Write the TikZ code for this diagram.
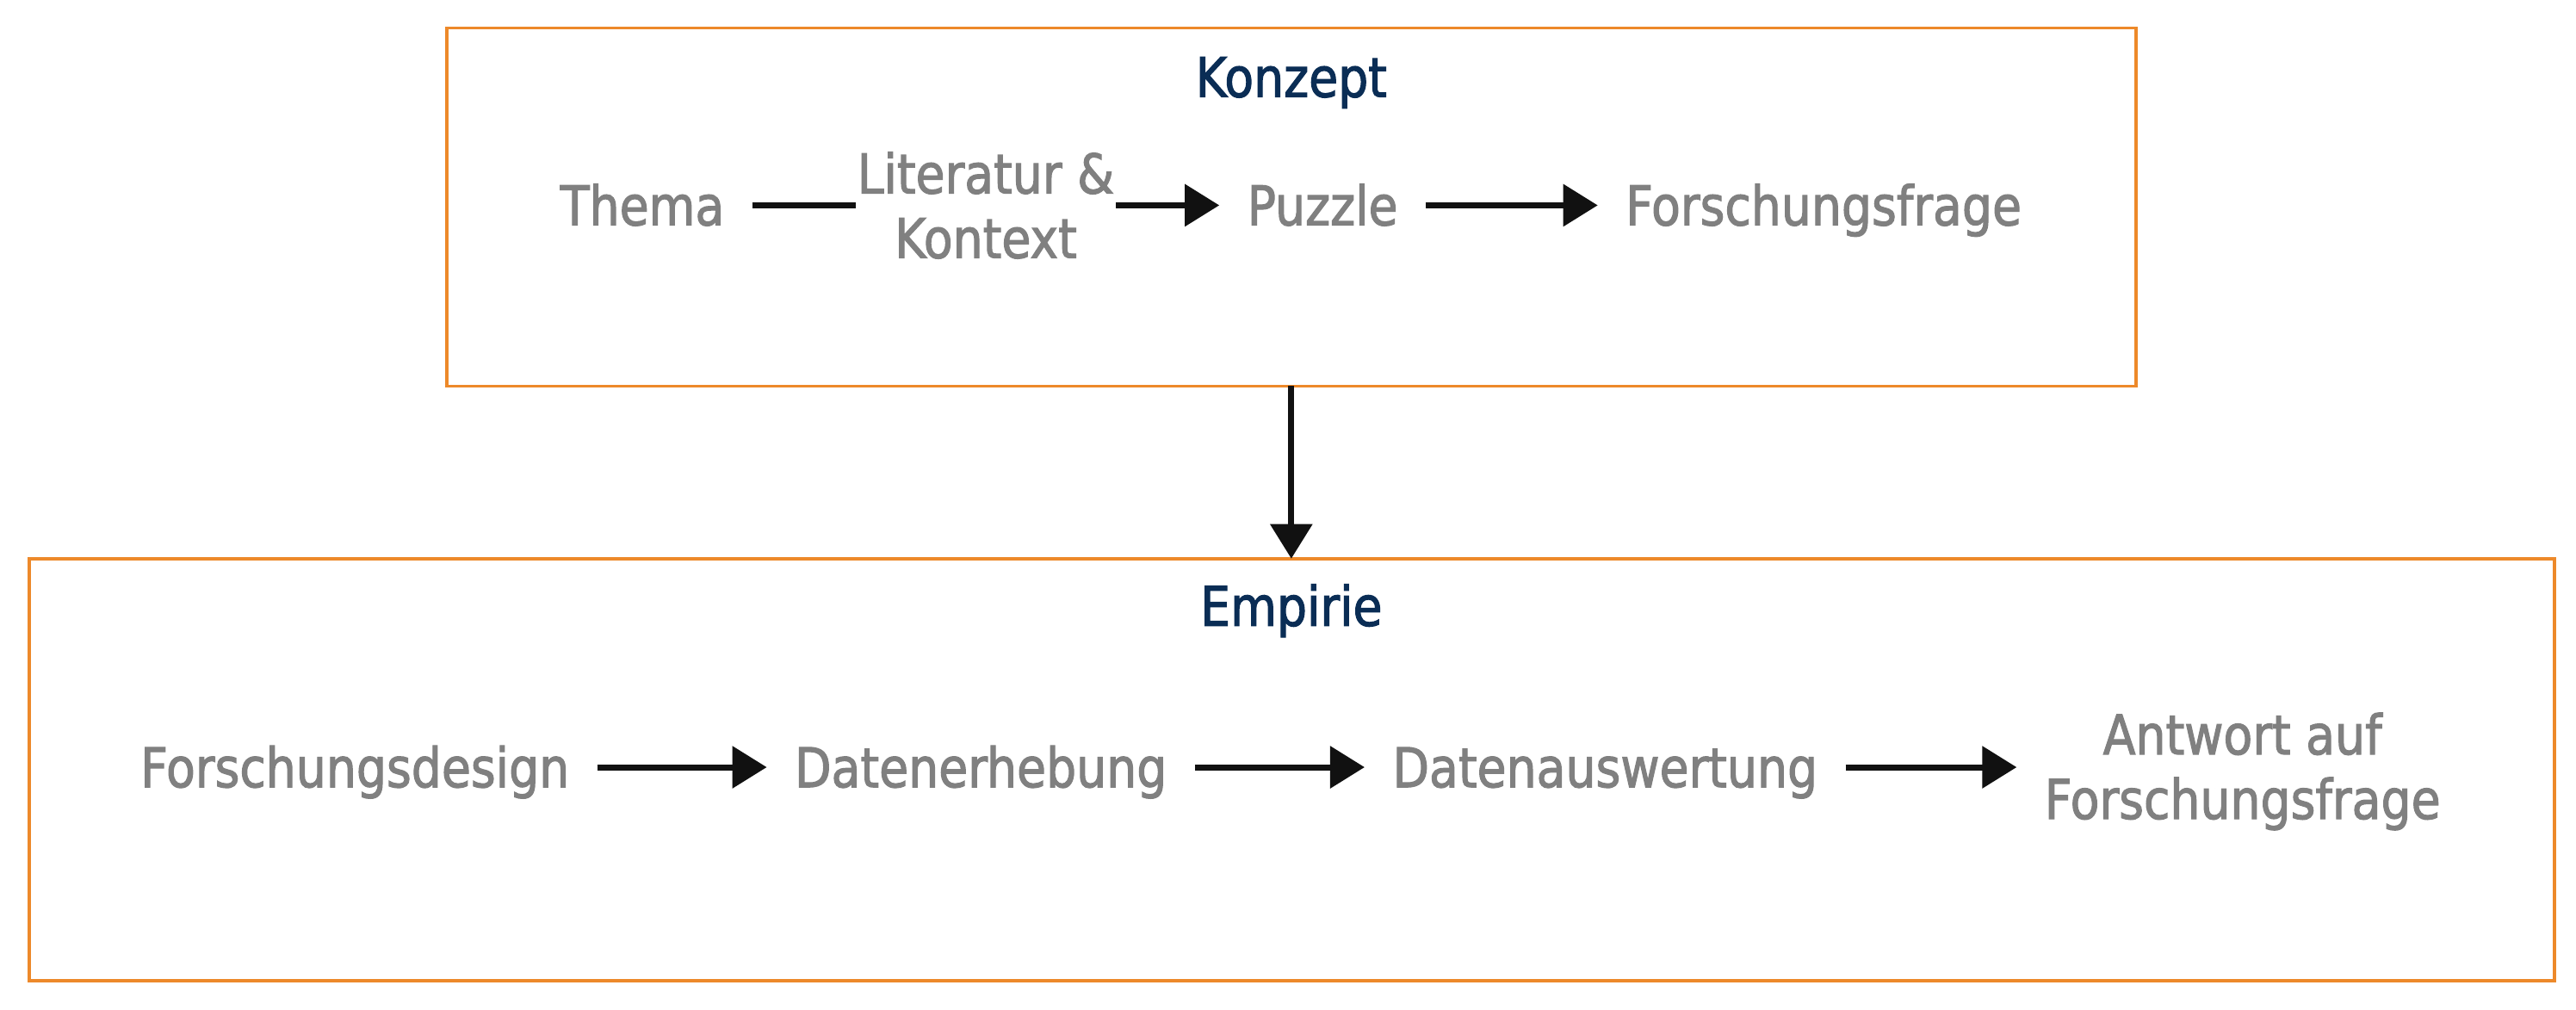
\documentclass[tikz,border=0pt]{standalone}
\usepackage{fontspec}
\setmainfont{DejaVu Sans}[FakeStretch=0.87,FakeBold=1.8]
\usetikzlibrary{arrows.meta}
\definecolor{orangeb}{RGB}{237,137,42}
\definecolor{navy}{RGB}{10,45,85}
\definecolor{greyt}{RGB}{128,128,128}
\definecolor{arrblack}{RGB}{17,17,17}
\begin{document}
\begin{tikzpicture}[x=1pt,y=-1pt,
  frame/.style={draw=orangeb,line width=2pt,inner sep=0pt,outer sep=0pt},
  title/.style={text=navy,font=\fontsize{33.3}{39.3}\selectfont,inner sep=0pt,anchor=base},
  item/.style={text=greyt,font=\fontsize{33.3}{39.3}\selectfont,inner xsep=17pt,inner ysep=0pt,outer sep=0pt,text height=24.3pt,text depth=0pt,anchor=base},
  multi/.style={text=greyt,font=\fontsize{33.3}{39.3}\selectfont,align=center,inner xsep=17pt,inner ysep=0pt,outer sep=0pt},
  lbl/.style={text=greyt,font=\fontsize{33.3}{39.3}\selectfont,align=center,fill=white,inner sep=1pt},
  arr/.style={draw=arrblack,line width=3.7pt,-{Triangle[length=21pt,width=25pt]}}
]
\useasboundingbox (0,0) rectangle (1568,614.2);
% boxes
\node[frame,minimum width=1028pt,minimum height=218pt] (konzept) at (786,126) {};
\node[frame,minimum width=1537pt,minimum height=257pt] (empirie) at (786.5,468.5) {};
% titles
\node[title] (tk) at (786,59) {Konzept};
\node[title] (te) at (786,380.9) {Empirie};
% Konzept row
\node[item] (thema) at (391,137.1) {Thema};
\node[item] (puzzle) at (805,137.1) {Puzzle};
\node[item] (ff) at (1110,137.1) {Forschungsfrage};
% Empirie row
\node[item] (fd) at (216,479.1) {Forschungsdesign};
\node[item] (de) at (597,479.1) {Datenerhebung};
\node[item] (da) at (977,479.1) {Datenauswertung};
\node[multi,anchor=base] (aw) at (1365,498.4) {Antwort auf\\Forschungsfrage};
% connectors
\draw[arr] (thema) -- node[lbl] (lit) {Literatur \&\\Kontext} (puzzle);
\draw[arr] (puzzle) -- (ff);
\draw[arr] (fd) -- (de);
\draw[arr] (de) -- (da);
\draw[arr] (da) -- (da -| aw.west);
\draw[arr] (konzept.south) -- (konzept.south |- empirie.north);
\end{tikzpicture}
\end{document}
